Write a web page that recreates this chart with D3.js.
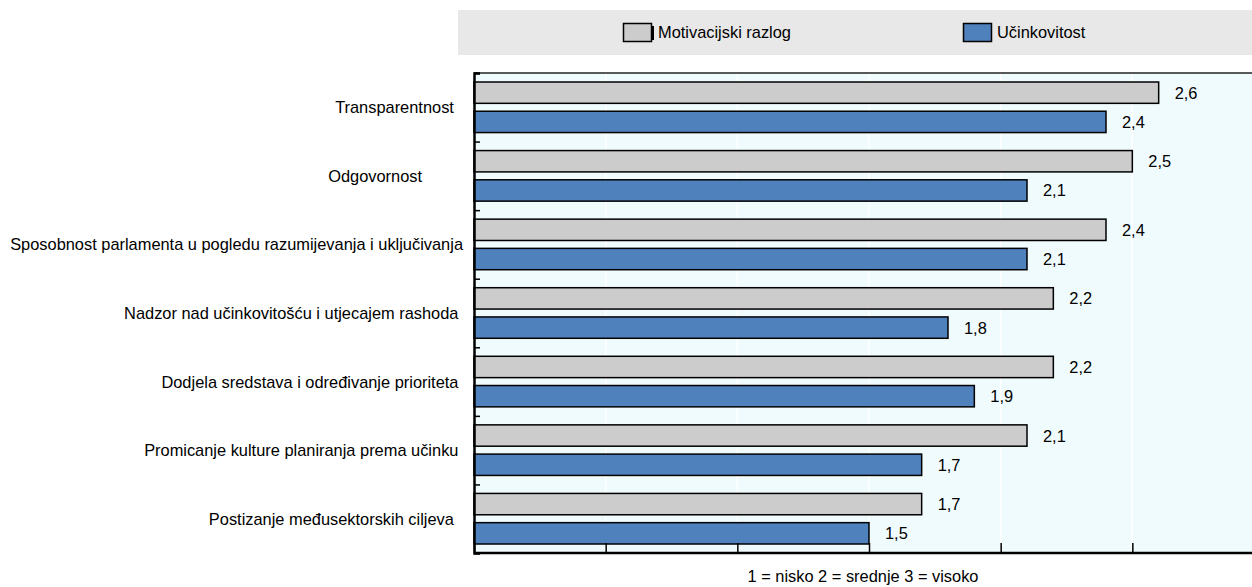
<!DOCTYPE html>
<html>
<head>
<meta charset="utf-8">
<script src="https://cdn.jsdelivr.net/npm/d3@7"></script>
<style>
  html, body { margin: 0; padding: 0; background: #ffffff; }
  svg { display: block; font-family: "Liberation Sans Narrow", "Arial Narrow", "Liberation Sans", Arial, sans-serif; }
  .cat { white-space: pre; }
</style>
</head>
<body>
<svg id="chart" width="1252" height="587"></svg>
<script>
// Categories (top to bottom); trailing spaces keep the original label alignment
const categories = [
  "Transparentnost  ",
  "Odgovornost         ",
  "Sposobnost parlamenta u pogledu razumijevanja i uključivanja",
  "Nadzor nad učinkovitošću i utjecajem rashoda ",
  "Dodjela sredstava i određivanje prioriteta ",
  "Promicanje kulture planiranja prema učinku ",
  "Postizanje međusektorskih ciljeva  "
];
const seriesNames = ["Motivacijski razlog", "Učinkovitost"];
const motivacijskiRazlog = [2.6, 2.5, 2.4, 2.2, 2.2, 2.1, 1.7];
const ucinkovitost = [2.4, 2.1, 2.1, 1.8, 1.9, 1.7, 1.5];
const xTicks = [0, 0.5, 1, 1.5, 2, 2.5];
const axisTitle = "1 = nisko 2 = srednje 3 = visoko";

const W = 1252, H = 587;
const plot = { left: 474, top: 73, bottom: 553, right: 1252 };
const colors = ["#cccccc", "#4f81bd"];
const fs = 16.4;

const svg = d3.select("#chart");

const x = d3.scaleLinear().domain([0, 3]).range([plot.left, plot.left + 790]);
const y = d3.scaleBand().domain(categories).range([plot.top, plot.bottom]);
const yInner = d3.scaleBand().domain(seriesNames)
  .range([9, y.bandwidth() - 9]).paddingInner(0.27);
const yEdges = d3.scaleLinear().domain([0, categories.length]).range([plot.top, plot.bottom]);

// Legend band
svg.append("rect").attr("x", 458).attr("y", 10).attr("width", W - 458).attr("height", 45)
  .attr("fill", "#e8e8e8");
const legendX = [623, 963];
seriesNames.forEach((name, i) => {
  const g = svg.append("g").attr("transform", `translate(${legendX[i]},23)`);
  if (i === 0) {
    g.append("rect").attr("x", 28).attr("y", 3).attr("width", 3).attr("height", 14).attr("fill", "#000");
  }
  g.append("rect").attr("x", 0.5).attr("y", 0.5).attr("width", 28).attr("height", 18)
    .attr("fill", colors[i]).attr("stroke", "#000").attr("stroke-width", 1.5);
  g.append("text").attr("x", i === 0 ? 35 : 34).attr("y", 15)
    .attr("font-size", fs).attr("fill", "#000").text(name);
});

// Plot background
svg.append("rect").attr("x", plot.left).attr("y", plot.top)
  .attr("width", plot.right - plot.left).attr("height", plot.bottom - plot.top)
  .attr("fill", "#f0fbfd");

// Vertical gridlines
svg.append("g").selectAll("line").data(xTicks.slice(1)).join("line")
  .attr("x1", d => x(d)).attr("x2", d => x(d))
  .attr("y1", plot.top).attr("y2", plot.bottom)
  .attr("stroke", "#ffffff").attr("stroke-width", 1.5);

// Top border
svg.append("line").attr("x1", plot.left).attr("x2", plot.right)
  .attr("y1", plot.top).attr("y2", plot.top)
  .attr("stroke", "#222").attr("stroke-width", 1.5);

// Bars
const rows = categories.map((c, i) => ({ c, vals: [motivacijskiRazlog[i], ucinkovitost[i]] }));
const groups = svg.append("g").selectAll("g").data(rows).join("g")
  .attr("transform", d => `translate(0,${y(d.c)})`);

groups.selectAll("rect").data(d => d.vals.map((v, j) => ({ v, s: seriesNames[j], j })))
  .join("rect")
  .attr("x", x(0))
  .attr("y", d => yInner(d.s))
  .attr("width", d => x(d.v) - x(0))
  .attr("height", yInner.bandwidth())
  .attr("fill", d => colors[d.j])
  .attr("stroke", "#000").attr("stroke-width", 1.5);

// Value labels
groups.selectAll("text").data(d => d.vals.map((v, j) => ({ v, s: seriesNames[j] })))
  .join("text")
  .attr("x", d => x(d.v) + 16)
  .attr("y", d => yInner(d.s) + yInner.bandwidth() / 2 + 6)
  .attr("font-size", fs).attr("fill", "#000")
  .text(d => d3.format(".1f")(d.v).replace(".", ","));

// Category labels
svg.append("g").selectAll("text").data(categories).join("text")
  .attr("class", "cat")
  .attr("x", 463)
  .attr("y", d => y(d) + y.bandwidth() / 2 + 6)
  .attr("text-anchor", "end")
  .attr("font-size", fs).attr("fill", "#000")
  .text(d => d);

// Left axis with inward ticks at group boundaries
const yAxis = svg.append("g").attr("transform", `translate(${plot.left},0)`)
  .call(d3.axisRight(yEdges).tickValues(d3.range(0, categories.length + 1)).tickSize(6).tickFormat(""));
yAxis.selectAll("line").attr("stroke", "#000").attr("stroke-width", 1.5);
yAxis.select(".domain").attr("stroke", "#000").attr("stroke-width", 2.5);

// Bottom axis with inward ticks
const xAxis = svg.append("g").attr("transform", `translate(0,${plot.bottom})`)
  .call(d3.axisTop(x).tickValues(xTicks).tickSize(10).tickSizeOuter(0).tickFormat(""));
xAxis.select(".domain").attr("d", `M${plot.left},0H${plot.right}`)
  .attr("stroke", "#000").attr("stroke-width", 2.5);
xAxis.selectAll("line").attr("stroke", "#000").attr("stroke-width", 1.5);

// Axis title
svg.append("text").attr("x", 863).attr("y", 582).attr("text-anchor", "middle")
  .attr("font-size", fs).attr("fill", "#000").text(axisTitle);
</script>
</body>
</html>
